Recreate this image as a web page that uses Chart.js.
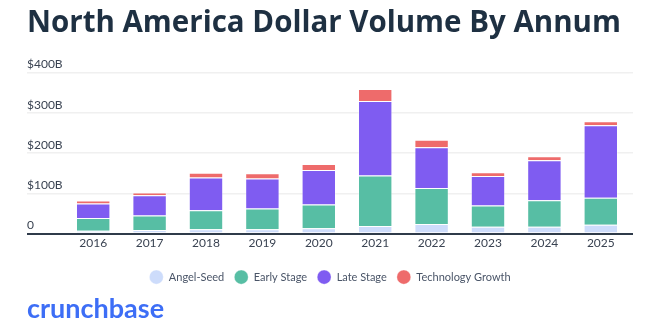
<!DOCTYPE html>
<html>
<head>
<meta charset="utf-8">
<title>North America Dollar Volume By Annum</title>
<script src="https://cdn.jsdelivr.net/npm/chart.js@4"></script>
<style>
    html, body { margin: 0; padding: 0; background: #ffffff; }
    #wrap { width: 668px; height: 334px; }
</style>
</head>
<body>
<div id="wrap"><canvas id="volume-chart" width="668" height="334"></canvas></div>
<script>
// Years on the x axis
const years = ['2016', '2017', '2018', '2019', '2020', '2021', '2022', '2023', '2024', '2025'];

// Dollar volume per stage, in billions of USD
const angelSeed = [7, 9, 11, 11, 13, 19, 24, 17, 17, 22];
const earlyStage = [32, 36, 47, 51, 59, 125, 89, 53, 66, 67];
const lateStage = [36, 50, 81, 75, 86, 185, 101, 73, 99, 180];
const techGrowth = [7, 7, 12, 13, 15, 30, 19, 9, 10, 10];

// y axis ticks
const yTicks = [0, 100, 200, 300, 400];

document.addEventListener('DOMContentLoaded', () => {
    const canvas = document.getElementById('volume-chart');
    const gridColor = ctx => (ctx.tick && ctx.tick.value === 0) ? '#2f3b4a' : '#f0f0f0';
    const gridWidth = ctx => (ctx.tick && ctx.tick.value === 0) ? 2 : 1.5;
    const tickLabel = v => v === 0 ? '0' : '$' + v + 'B';

    function stage(label, data, color) {
        return {
            label: label,
            data: data,
            backgroundColor: color,
            borderColor: 'rgba(255, 255, 255, 0.35)',
            borderWidth: 1,
            barPercentage: 0.61,
            categoryPercentage: 1
        };
    }

    new Chart(canvas, {
        type: 'bar',
        data: {
            labels: years,
            datasets: [
                stage('Angel-Seed', angelSeed, '#cddcfb'),
                stage('Early Stage', earlyStage, '#57bea4'),
                stage('Late Stage', lateStage, '#7f5cf1'),
                stage('Technology Growth', techGrowth, '#ee6b6b')
            ]
        },
        options: {
            responsive: false,
            animation: false,
            layout: {
                padding: { left: 27, right: 35, top: 4, bottom: 9 }
            },
            plugins: {
                title: {
                    display: true,
                    text: 'North America Dollar Volume By Annum',
                    align: 'start',
                    color: '#1e3042',
                    font: { family: 'Open Sans', size: 29.5, weight: 'bold' },
                    padding: { top: 2, bottom: 31 }
                },
                subtitle: {
                    display: true,
                    position: 'bottom',
                    text: 'crunchbase',
                    align: 'start',
                    color: '#3d6ef6',
                    font: { family: 'Lato', size: 27, weight: 'bold' },
                    padding: { top: 0, bottom: 0 }
                },
                legend: {
                    position: 'bottom',
                    labels: {
                        usePointStyle: true,
                        pointStyle: 'circle',
                        boxHeight: 10,
                        pointStyleWidth: 14,
                        padding: 10,
                        color: '#4a5568',
                        font: { family: 'Lato', size: 11 }
                    }
                },
                tooltip: { enabled: false }
            },
            scales: {
                x: {
                    stacked: true,
                    afterFit: scale => { scale.height = 28; },
                    grid: { display: false, drawTicks: false },
                    border: { display: false },
                    ticks: {
                        color: '#3a4352',
                        padding: 2,
                        font: { family: 'Lato', size: 12 }
                    }
                },
                y: {
                    stacked: true,
                    min: yTicks[0],
                    max: yTicks[yTicks.length - 1],
                    afterBuildTicks: scale => { scale.ticks = yTicks.map(v => ({ value: v })); },
                    afterFit: scale => { scale.width = 38; },
                    grid: {
                        color: gridColor,
                        lineWidth: gridWidth,
                        tickColor: gridColor,
                        tickWidth: gridWidth,
                        drawTicks: true,
                        tickLength: 38
                    },
                    border: { display: false },
                    ticks: {
                        callback: tickLabel,
                        crossAlign: 'far',
                        labelOffset: -8,
                        padding: 0,
                        color: '#3a4352',
                        font: { family: 'Lato', size: 12 }
                    }
                },
                y2: {
                    position: 'right',
                    min: yTicks[0],
                    max: yTicks[yTicks.length - 1],
                    afterBuildTicks: scale => { scale.ticks = yTicks.map(v => ({ value: v })); },
                    afterFit: scale => { scale.width = 4; },
                    grid: {
                        drawOnChartArea: false,
                        color: gridColor,
                        lineWidth: gridWidth,
                        tickColor: gridColor,
                        tickWidth: gridWidth,
                        drawTicks: true,
                        tickLength: 4
                    },
                    border: { display: false },
                    ticks: { display: false }
                }
            }
        }
    });
});
</script>
</body>
</html>
